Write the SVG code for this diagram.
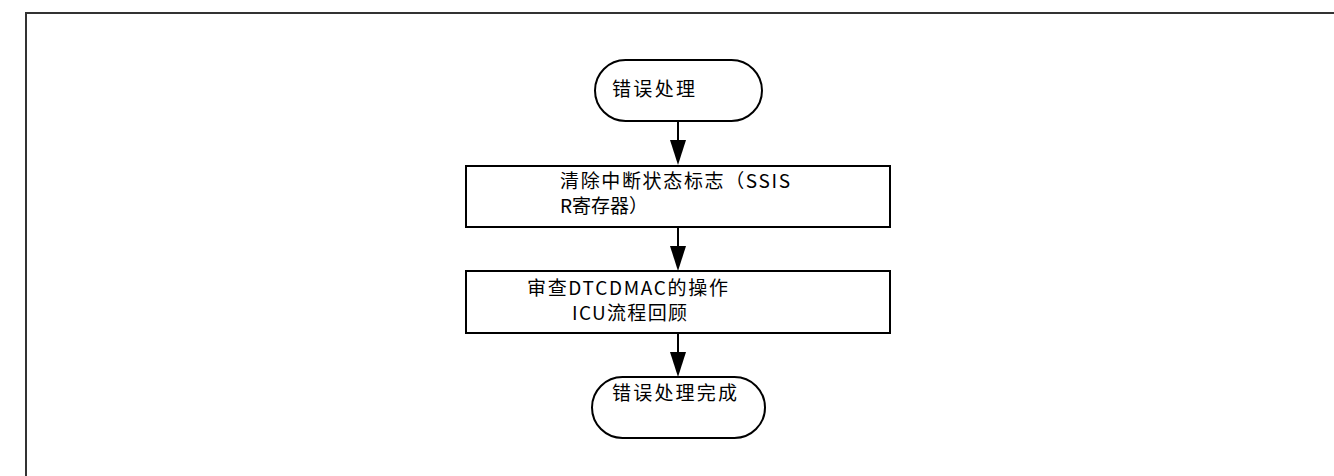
<svg xmlns="http://www.w3.org/2000/svg" width="1334" height="476" viewBox="0 0 1334 476">
<style>
.shape{fill:#fff;stroke:#000;stroke-width:2}
.t{font-family:"Noto Sans CJK SC","Noto Sans",sans-serif;font-size:19px;fill:#000}
.conn{stroke:#000;stroke-width:2;fill:none}
.head{fill:#000}
</style>
<rect x="26" y="13" width="1320" height="480" fill="none" stroke="#333" stroke-width="2"/>
<g id="connectors">
<line class="conn" x1="678" y1="121" x2="678" y2="140"/>
<path class="head" d="M670,140 L686,140 L678,165 Z"/>
<line class="conn" x1="678" y1="227" x2="678" y2="246"/>
<path class="head" d="M670,246 L686,246 L678,271 Z"/>
<line class="conn" x1="678" y1="333" x2="678" y2="352"/>
<path class="head" d="M670,352 L686,352 L678,377 Z"/>
</g>
<g id="start">
<rect class="shape" x="595" y="60" width="167" height="61" rx="30.5"/>
<text class="t" x="612" y="96" textLength="83">错误处理</text>
</g>
<g id="clear">
<rect class="shape" x="466" y="166" width="424" height="61"/>
<text class="t" x="560" y="188" textLength="230">清除中断状态标志（SSIS</text>
<text class="t" x="560" y="213">R寄存器）</text>
</g>
<g id="review">
<rect class="shape" x="466" y="271" width="424" height="62"/>
<text class="t" x="527" y="295" textLength="201">审查DTCDMAC的操作</text>
<text class="t" x="572" y="320" textLength="115">ICU流程回顾</text>
</g>
<g id="end">
<rect class="shape" x="592" y="377" width="173" height="61" rx="30.5"/>
<text class="t" x="612" y="400" textLength="125">错误处理完成</text>
</g>
</svg>
